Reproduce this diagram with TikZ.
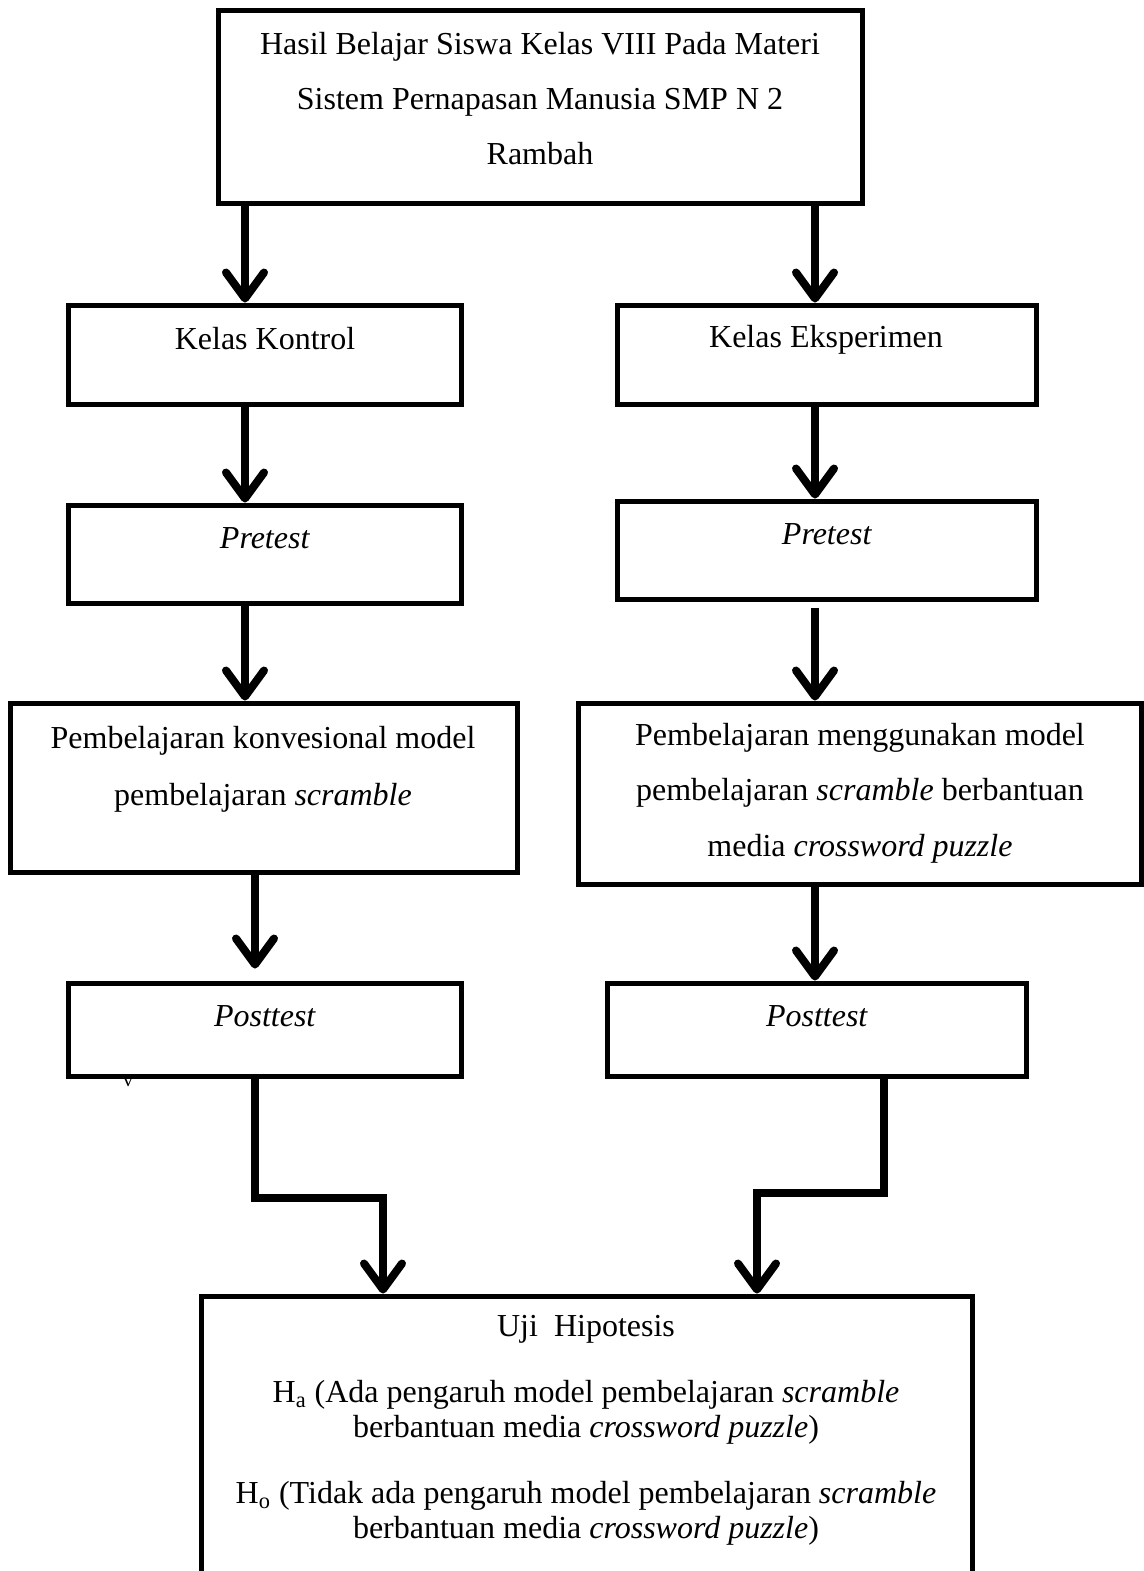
\documentclass[tikz,border=0pt]{standalone}
\usepackage{fontspec}
\setmainfont{Liberation Serif}
\usepackage{tikz}
\usetikzlibrary{arrows.meta, calc}

\begin{document}
\begin{tikzpicture}[
        x=0.5pt, y=-0.5pt,
        box/.style={draw, line width=2.5pt, inner sep=0pt},
        txt/.style={align=center, inner sep=0pt, font=\fontsize{16}{27.5}\selectfont},
        hyp/.style={align=center, inner sep=0pt, font=\fontsize{16}{17.5}\selectfont},
        arr/.style={line width=4pt, -{Straight Barb[length=13pt, width=19pt, line cap=round, line join=round]}}
    ]
    \useasboundingbox (0,0) rectangle (1144,1571);

    % Top box
    \node[box, minimum width=322pt, minimum height=96.5pt] (hasil) at (540,106.5) {};
    \node[txt] (hasiltxt) at (540,99) {Hasil Belajar Siswa Kelas VIII Pada Materi\\Sistem Pernapasan Manusia SMP N 2\\Rambah};

    % Kelas
    \node[box, minimum width=196.5pt, minimum height=49.5pt] (kontrol) at (264.5,354.5) {};
    \node[txt] (kontroltxt) at (265,339) {Kelas Kontrol};
    \node[box, minimum width=209.5pt, minimum height=49.5pt] (eksp) at (826.5,354.5) {};
    \node[txt] (eksptxt) at (826,340) {Kelas Eksperimen};

    % Pretest
    \node[box, minimum width=196.5pt, minimum height=49pt] (preL) at (264.5,554) {};
    \node[txt] (preLtxt) at (265,538) {\textit{Pretest}};
    \node[box, minimum width=209.5pt, minimum height=49pt] (preR) at (826.5,550) {};
    \node[txt] (preRtxt) at (827,534) {\textit{Pretest}};

    % Pembelajaran
    \node[box, minimum width=253.5pt, minimum height=84.5pt] (pembL) at (263.5,787.5) {};
    \node[txt, font=\fontsize{16}{28.5}\selectfont] (pembLtxt) at (263,769) {Pembelajaran konvesional model\\pembelajaran \textit{scramble}};
    \node[box, minimum width=281.5pt, minimum height=90.5pt] (pembR) at (859.5,793.5) {};
    \node[txt, font=\fontsize{16}{27.75}\selectfont] (pembRtxt) at (860,793) {Pembelajaran menggunakan model\\pembelajaran \textit{scramble} berbantuan\\media \textit{crossword puzzle}};

    % Posttest
    \node[box, minimum width=196.5pt, minimum height=46.5pt] (postL) at (264.5,1029.5) {};
    \node[txt] (postLtxt) at (265,1016) {\textit{Posttest}};
    \node[box, minimum width=209.5pt, minimum height=46.5pt] (postR) at (816.5,1029.5) {};
    \node[txt] (postRtxt) at (817,1016) {\textit{Posttest}};
    \node[inner sep=0pt, font=\fontsize{10}{10}\selectfont] (stray) at (128,1082) {v};

    % Uji Hipotesis
    \node[box, minimum width=385.5pt, minimum height=152pt] (hipo) at (586.5,1448) {};
    \node[txt] (ujitxt) at (586,1329) {Uji~~Hipotesis};
    \node[hyp] (hatxt) at (586,1412) {H\textsubscript{a} (Ada pengaruh model pembelajaran \textit{scramble}\\berbantuan media \textit{crossword puzzle})};
    \node[hyp] (hotxt) at (586,1513) {H\textsubscript{o} (Tidak ada pengaruh model pembelajaran \textit{scramble}\\berbantuan media \textit{crossword puzzle})};

    % Arrows
    \draw[arr] (hasil.south -| 245,0) -- (kontrol.north -| 245,0);
    \draw[arr] (hasil.south -| 815,0) -- (eksp.north -| 815,0);
    \draw[arr] (kontrol.south -| 245,0) -- (preL.north -| 245,0);
    \draw[arr] (eksp.south -| 815,0) -- (preR.north -| 815,0);
    \draw[arr] (preL.south -| 245,0) -- (pembL.north -| 245,0);
    \draw[arr] ([yshift=-3pt]preR.south -| 815,0) -- (pembR.north -| 815,0);
    \draw[arr] (pembL.south -| 255,0) -- ([yshift=6pt]postL.north -| 255,0);
    \draw[arr] (pembR.south -| 815,0) -- (postR.north -| 815,0);

    \coordinate (elbowL) at (383,1198);
    \coordinate (elbowR) at (757,1193);
    \draw[arr] (postL.south -| 255,0) |- (elbowL) -- (hipo.north -| elbowL);
    \draw[arr] (postR.south -| 884,0) |- (elbowR) -- (hipo.north -| elbowR);

\end{tikzpicture}
\end{document}
